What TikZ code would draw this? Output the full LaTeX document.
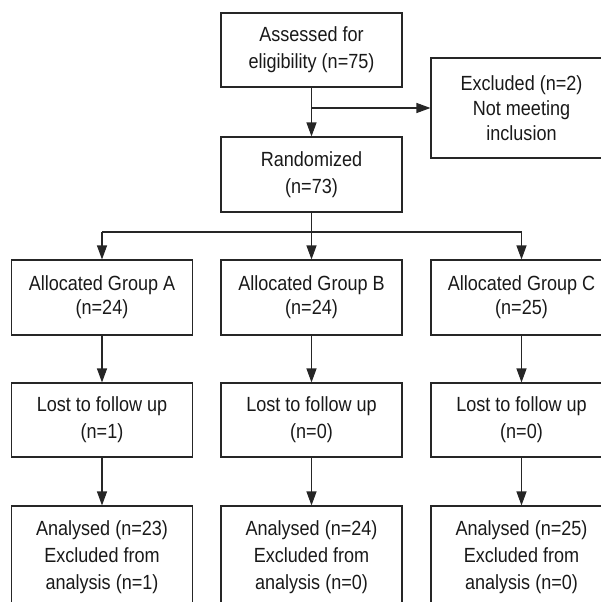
\documentclass[tikz,border=0pt]{standalone}
\usepackage{fontspec}
\setmainfont{Liberation Sans}[FakeStretch=0.88]
\usetikzlibrary{arrows.meta}
\definecolor{ink}{HTML}{262626}
\tikzset{
  box/.style={draw=ink, line width=1.1pt, minimum width=181pt, inner sep=0pt, align=center, text=black!90,
    font=\fontsize{20.5}{27}\selectfont},
  arr/.style={draw=ink, line width=1.1pt, -{Triangle[length=14pt,width=10pt]}},
  ln/.style={draw=ink, line width=1.1pt}
}
\begin{document}
\begin{tikzpicture}[x=1pt,y=-1pt]
\useasboundingbox (0,0) rectangle (601,602);
\clip (0,0) rectangle (601,602);
\node[box, minimum height=74pt] (assess) at (311.5,50) {Assessed for\\eligibility (n=75)};
\node[box, minimum height=100pt, font=\fontsize{20.5}{25}\selectfont] (excl) at (521.5,108) {Excluded (n=2)\\Not meeting\\inclusion};
\node[box, minimum height=75pt] (rand) at (311.5,174.5) {Randomized\\(n=73)};
\node[box, minimum height=75pt, font=\fontsize{20.5}{24}\selectfont] (ga) at (102,297.5) {Allocated Group A\\(n=24)};
\node[box, minimum height=75pt, font=\fontsize{20.5}{24}\selectfont] (gb) at (311.5,297.5) {Allocated Group B\\(n=24)};
\node[box, minimum height=75pt, font=\fontsize{20.5}{24}\selectfont] (gc) at (521.5,297.5) {Allocated Group C\\(n=25)};
\node[box, minimum height=74pt] (la) at (102,420) {Lost to follow up\\(n=1)};
\node[box, minimum height=74pt] (lb) at (311.5,420) {Lost to follow up\\(n=0)};
\node[box, minimum height=74pt] (lc) at (521.5,420) {Lost to follow up\\(n=0)};
\node[box, minimum height=102pt] (aa) at (102,557) {Analysed (n=23)\\Excluded from\\analysis (n=1)};
\node[box, minimum height=102pt] (ab) at (311.5,557) {Analysed (n=24)\\Excluded from\\analysis (n=0)};
\node[box, minimum height=102pt] (ac) at (521.5,557) {Analysed (n=25)\\Excluded from\\analysis (n=0)};
\coordinate (split) at (311.5,232);
\draw[arr] (assess) -- (rand);
\draw[arr] (assess.south |- excl.west) -- (excl.west);
\draw[ln] (rand) -- (split);
\draw[ln] (ga.north |- split) -- (gc.north |- split);
\draw[arr] (ga.north |- split) -- (ga);
\draw[arr] (split) -- (gb);
\draw[arr] (gc.north |- split) -- (gc);
\draw[arr] (ga) -- (la);
\draw[arr] (gb) -- (lb);
\draw[arr] (gc) -- (lc);
\draw[arr] (la) -- (aa);
\draw[arr] (lb) -- (ab);
\draw[arr] (lc) -- (ac);
\end{tikzpicture}
\end{document}
